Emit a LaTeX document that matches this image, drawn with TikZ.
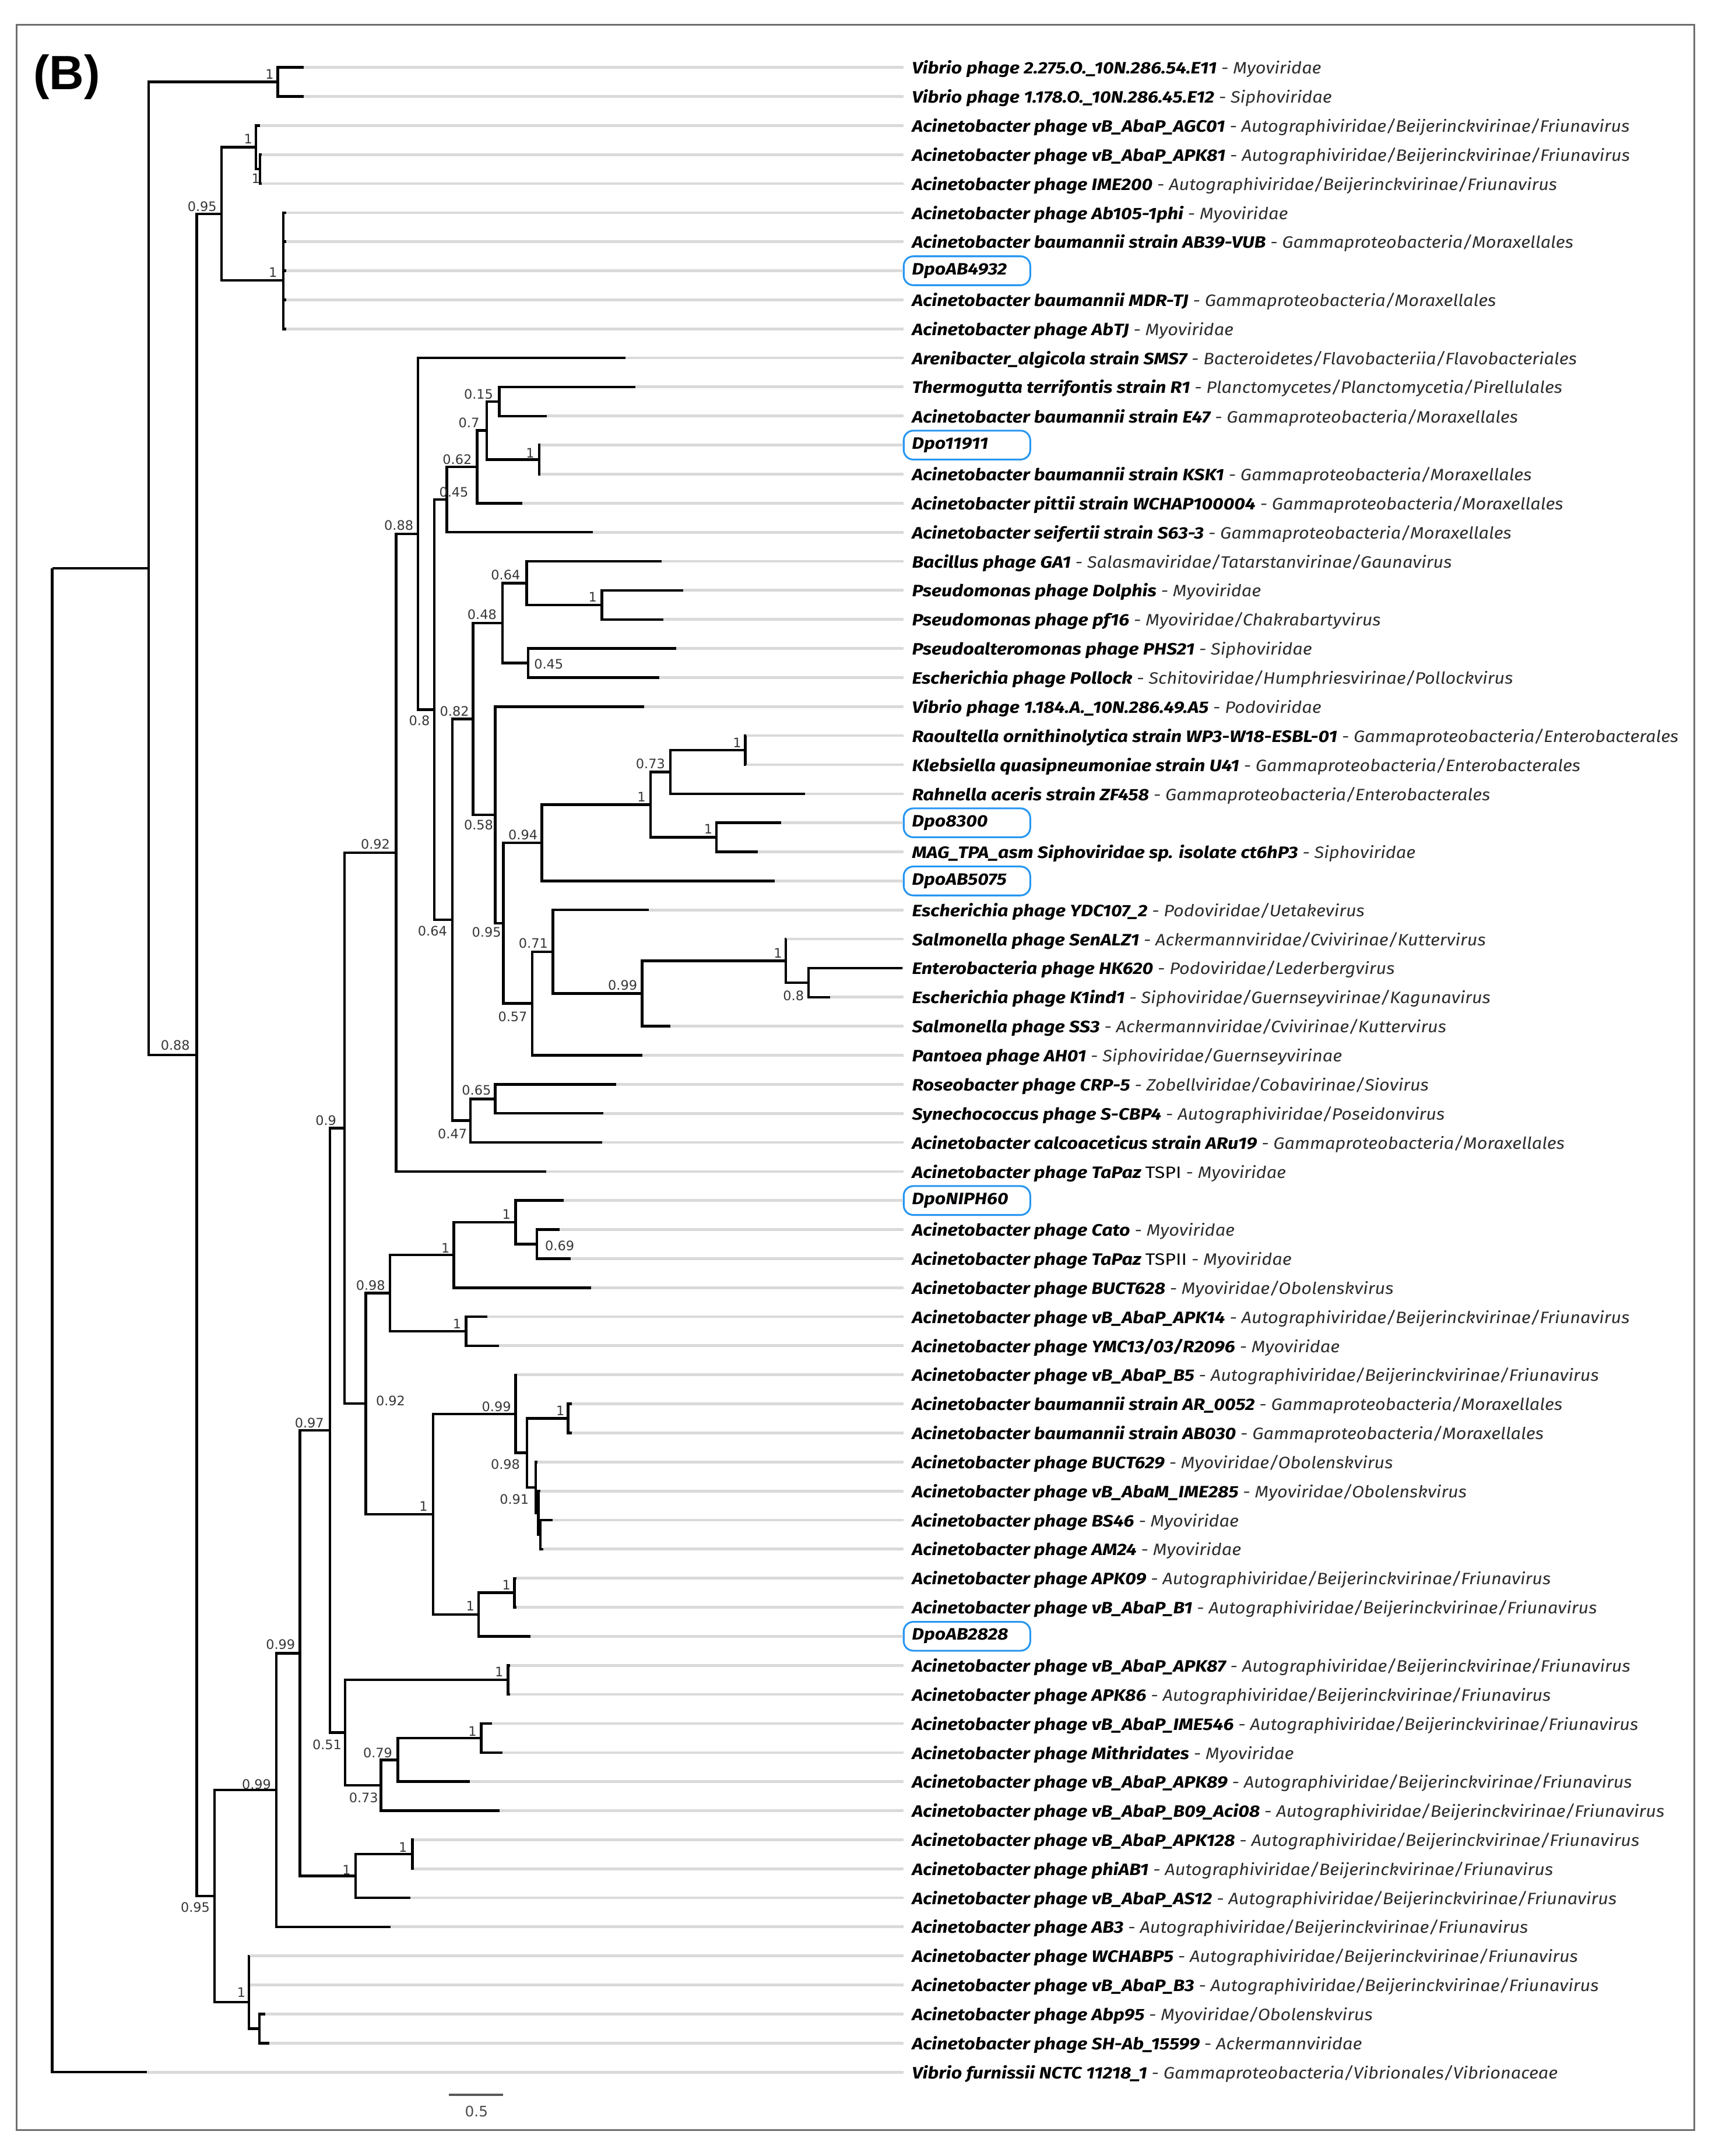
\documentclass[tikz,border=0pt]{standalone}
\usepackage{graphicx}
\usepackage{fontspec}
\newfontfamily\labfont{Fira Sans}
\newfontfamily\numfont{DejaVu Sans}
\newfontfamily\panelfont{Liberation Sans}
\definecolor{boxblue}{RGB}{38,150,240}
\definecolor{tipgray}{RGB}{218,218,218}
\definecolor{numgray}{RGB}{55,55,55}
\definecolor{framegray}{RGB}{110,110,110}
\definecolor{taxgray}{RGB}{45,45,45}
\newcommand\taxl[2]{\scalebox{1.14}[1]{\textbf{#1}}\scalebox{1.085}[1]{\color{taxgray}\ - #2}}
\newcommand\dpol[1]{\scalebox{1.14}[1]{\textbf{#1}}}
\newcommand\abfam{Autographiviridae/Beijerinckvirinae/Friunavirus}
\newcommand\gammor{Gammaproteobacteria/Moraxellales}
\tikzset{
 br/.style={line width=1.9pt, black, line join=miter},
 gl/.style={line width=2pt, tipgray},
 lab/.style={anchor=west, inner xsep=6pt, inner ysep=1pt, yshift=-1.2pt, font=\labfont\itshape\fontsize{12}{13}\selectfont, text=black},
 dpo/.style={lab, yshift=1.2pt, draw=boxblue, line width=1.3pt, rounded corners=7pt, text width=80pt, minimum height=21pt, align=left},
 bsv/.style={inner sep=0pt, font=\numfont\fontsize{9.5}{10}\selectfont, text=numgray},
}
\begin{document}
\begin{tikzpicture}[x=1pt,y=-1pt]
\useasboundingbox (0,0) rectangle (1247,1568);
\fill[white] (0,0) rectangle (1247,1568);
\draw[framegray, line width=1.2pt] (12,18) rectangle (1232,1549);
\node[font=\panelfont\bfseries\fontsize{35}{40}\selectfont, inner sep=0pt] (panel) at (48.5,56) {(B)};

% tips
\coordinate (t1) at (221,49.0);
\coordinate (t2) at (221,70.1);
\coordinate (t3) at (189,91.3);
\coordinate (t4) at (190.5,112.4);
\coordinate (t5) at (190.5,133.5);
\coordinate (t6) at (208,154.7);
\coordinate (t7) at (208,175.8);
\coordinate (t8) at (208,196.9);
\coordinate (t9) at (208,218.0);
\coordinate (t10) at (208,239.2);
\coordinate (t11) at (455,260.3);
\coordinate (t12) at (462,281.4);
\coordinate (t13) at (397.6,302.6);
\coordinate (t14) at (393,323.7);
\coordinate (t15) at (393,344.8);
\coordinate (t16) at (380,366.0);
\coordinate (t17) at (431,387.1);
\coordinate (t18) at (481,408.2);
\coordinate (t19) at (496.7,429.3);
\coordinate (t20) at (482.3,450.5);
\coordinate (t21) at (491.8,471.6);
\coordinate (t22) at (479.6,492.7);
\coordinate (t23) at (468.4,513.9);
\coordinate (t24) at (542.5,535.0);
\coordinate (t25) at (542.5,556.1);
\coordinate (t26) at (585.4,577.3);
\coordinate (t27) at (568,598.4);
\coordinate (t28) at (551,619.5);
\coordinate (t29) at (563.5,640.7);
\coordinate (t30) at (471.8,661.8);
\coordinate (t31) at (572,682.9);
\coordinate (t32) at (656,704.0);
\coordinate (t33) at (603.7,725.2);
\coordinate (t34) at (487.5,746.3);
\coordinate (t35) at (467.3,767.4);
\coordinate (t36) at (448,788.6);
\coordinate (t37) at (438.8,809.7);
\coordinate (t38) at (437.7,830.8);
\coordinate (t39) at (397,852.0);
\coordinate (t40) at (410,873.1);
\coordinate (t41) at (407,894.2);
\coordinate (t42) at (415,915.3);
\coordinate (t43) at (430,936.5);
\coordinate (t44) at (354.5,957.6);
\coordinate (t45) at (362.7,978.7);
\coordinate (t46) at (376,999.9);
\coordinate (t47) at (416,1021.0);
\coordinate (t48) at (416,1042.1);
\coordinate (t49) at (391,1063.3);
\coordinate (t50) at (393,1084.4);
\coordinate (t51) at (402,1105.5);
\coordinate (t52) at (395,1126.6);
\coordinate (t53) at (375.5,1147.8);
\coordinate (t54) at (375.5,1168.9);
\coordinate (t55) at (385.6,1190.0);
\coordinate (t56) at (371,1211.2);
\coordinate (t57) at (371,1232.3);
\coordinate (t58) at (357.9,1253.4);
\coordinate (t59) at (365.4,1274.6);
\coordinate (t60) at (341.5,1295.7);
\coordinate (t61) at (363.4,1316.8);
\coordinate (t62) at (301,1337.9);
\coordinate (t63) at (301,1359.1);
\coordinate (t64) at (298.4,1380.2);
\coordinate (t65) at (284,1401.3);
\coordinate (t66) at (181.5,1422.5);
\coordinate (t67) at (181.5,1443.6);
\coordinate (t68) at (192.8,1464.7);
\coordinate (t69) at (195.7,1485.9);
\coordinate (t70) at (107,1507.0);

% internal nodes
\coordinate (R) at (38,413.4);
\coordinate (A) at (108,413.4);
\coordinate (V) at (202,59.55);
\coordinate (B) at (143,767.2);
\coordinate (Ca) at (161,155.5);
\coordinate (n186) at (186,107.1);
\coordinate (n189a) at (189,122.95);
\coordinate (n206) at (206,204);
\coordinate (D) at (156,1378.9);
\coordinate (E) at (201,1301.8);
\coordinate (F) at (218,1202.3);
\coordinate (G) at (240,1040.2);
\coordinate (H) at (250.6,820.45);
\coordinate (I) at (288,620.1);
\coordinate (K) at (304,388.2);
\coordinate (L) at (315.7,516.1);
\coordinate (M) at (325,363.3);
\coordinate (n347) at (347,339.6);
\coordinate (n354) at (354,313.1);
\coordinate (n363) at (363,292.0);
\coordinate (n392) at (392,334.25);
\coordinate (P) at (329,668.95);
\coordinate (Q) at (344,522.9);
\coordinate (T) at (365.5,453.1);
\coordinate (n383) at (383,424.05);
\coordinate (n437) at (437.6,439.9);
\coordinate (n384) at (384,482.15);
\coordinate (U) at (360,592.65);
\coordinate (W) at (366,671.4);
\coordinate (X) at (394,612.95);
\coordinate (n473) at (473,585.2);
\coordinate (n487) at (487.5,561.4);
\coordinate (n542) at (542,545.55);
\coordinate (n521) at (521,608.95);
\coordinate (Y) at (387,729.8);
\coordinate (Z) at (402,692.15);
\coordinate (n467) at (467,722.5);
\coordinate (n571) at (571.5,698.75);
\coordinate (n588) at (588,714.6);
\coordinate (S) at (342,815);
\coordinate (n360) at (360,799.15);
\coordinate (J) at (266,1020.8);
\coordinate (n283) at (283.5,940.4);
\coordinate (n330) at (330,912.7);
\coordinate (n375a) at (375,888.9);
\coordinate (n390) at (390.5,904.75);
\coordinate (n339) at (339,968.15);
\coordinate (n315) at (315,1101.25);
\coordinate (n375b) at (375,1028.3);
\coordinate (n383b) at (383.3,1056.65);
\coordinate (n413) at (413,1031.55);
\coordinate (n390b) at (389.6,1081.75);
\coordinate (n391) at (391.5,1100.2);
\coordinate (n393) at (393,1116.05);
\coordinate (n348) at (348,1174.2);
\coordinate (n374) at (374,1158.35);
\coordinate (N251) at (251,1260);
\coordinate (n370) at (369.5,1221.75);
\coordinate (n277) at (277,1298.3);
\coordinate (n289) at (289.4,1279.85);
\coordinate (n350) at (350,1264);
\coordinate (n258) at (258.5,1364.35);
\coordinate (n300) at (300,1348.5);
\coordinate (n181) at (181,1456);
\coordinate (n189b) at (188.7,1475.3);

% labels
\node[lab] (l1) at (657,49.0) {\taxl{Vibrio phage 2.275.O.\_10N.286.54.E11}{Myoviridae}};
\node[lab] (l2) at (657,70.1) {\taxl{Vibrio phage 1.178.O.\_10N.286.45.E12}{Siphoviridae}};
\node[lab] (l3) at (657,91.3) {\taxl{Acinetobacter phage vB\_AbaP\_AGC01}{\abfam}};
\node[lab] (l4) at (657,112.4) {\taxl{Acinetobacter phage vB\_AbaP\_APK81}{\abfam}};
\node[lab] (l5) at (657,133.5) {\taxl{Acinetobacter phage IME200}{\abfam}};
\node[lab] (l6) at (657,154.7) {\taxl{Acinetobacter phage Ab105-1phi}{Myoviridae}};
\node[lab] (l7) at (657,175.8) {\taxl{Acinetobacter baumannii strain AB39-VUB}{\gammor}};
\node[dpo] (l8) at (656.5,196.9) {\dpol{DpoAB4932}};
\node[lab] (l9) at (657,218.0) {\taxl{Acinetobacter baumannii MDR-TJ}{\gammor}};
\node[lab] (l10) at (657,239.2) {\taxl{Acinetobacter phage AbTJ}{Myoviridae}};
\node[lab] (l11) at (657,260.3) {\taxl{Arenibacter\_algicola strain SMS7}{Bacteroidetes/Flavobacteriia/Flavobacteriales}};
\node[lab] (l12) at (657,281.4) {\taxl{Thermogutta terrifontis strain R1}{Planctomycetes/Planctomycetia/Pirellulales}};
\node[lab] (l13) at (657,302.6) {\taxl{Acinetobacter baumannii strain E47}{\gammor}};
\node[dpo] (l14) at (656.5,323.7) {\dpol{Dpo11911}};
\node[lab] (l15) at (657,344.8) {\taxl{Acinetobacter baumannii strain KSK1}{\gammor}};
\node[lab] (l16) at (657,366.0) {\taxl{Acinetobacter pittii strain WCHAP100004}{\gammor}};
\node[lab] (l17) at (657,387.1) {\taxl{Acinetobacter seifertii strain S63-3}{\gammor}};
\node[lab] (l18) at (657,408.2) {\taxl{Bacillus phage GA1}{Salasmaviridae/Tatarstanvirinae/Gaunavirus}};
\node[lab] (l19) at (657,429.3) {\taxl{Pseudomonas phage Dolphis}{Myoviridae}};
\node[lab] (l20) at (657,450.5) {\taxl{Pseudomonas phage pf16}{Myoviridae/Chakrabartyvirus}};
\node[lab] (l21) at (657,471.6) {\taxl{Pseudoalteromonas phage PHS21}{Siphoviridae}};
\node[lab] (l22) at (657,492.7) {\taxl{Escherichia phage Pollock}{Schitoviridae/Humphriesvirinae/Pollockvirus}};
\node[lab] (l23) at (657,513.9) {\taxl{Vibrio phage 1.184.A.\_10N.286.49.A5}{Podoviridae}};
\node[lab] (l24) at (657,535.0) {\taxl{Raoultella ornithinolytica strain WP3-W18-ESBL-01}{Gammaproteobacteria/Enterobacterales}};
\node[lab] (l25) at (657,556.1) {\taxl{Klebsiella quasipneumoniae strain U41}{Gammaproteobacteria/Enterobacterales}};
\node[lab] (l26) at (657,577.3) {\taxl{Rahnella aceris strain ZF458}{Gammaproteobacteria/Enterobacterales}};
\node[dpo] (l27) at (656.5,598.4) {\dpol{Dpo8300}};
\node[lab] (l28) at (657,619.5) {\taxl{MAG\_TPA\_asm Siphoviridae sp. isolate ct6hP3}{Siphoviridae}};
\node[dpo] (l29) at (656.5,640.7) {\dpol{DpoAB5075}};
\node[lab] (l30) at (657,661.8) {\taxl{Escherichia phage YDC107\_2}{Podoviridae/Uetakevirus}};
\node[lab] (l31) at (657,682.9) {\taxl{Salmonella phage SenALZ1}{Ackermannviridae/Cvivirinae/Kuttervirus}};
\node[lab] (l32) at (657,704.0) {\taxl{Enterobacteria phage HK620}{Podoviridae/Lederbergvirus}};
\node[lab] (l33) at (657,725.2) {\taxl{Escherichia phage K1ind1}{Siphoviridae/Guernseyvirinae/Kagunavirus}};
\node[lab] (l34) at (657,746.3) {\taxl{Salmonella phage SS3}{Ackermannviridae/Cvivirinae/Kuttervirus}};
\node[lab] (l35) at (657,767.4) {\taxl{Pantoea phage AH01}{Siphoviridae/Guernseyvirinae}};
\node[lab] (l36) at (657,788.6) {\taxl{Roseobacter phage CRP-5}{Zobellviridae/Cobavirinae/Siovirus}};
\node[lab] (l37) at (657,809.7) {\taxl{Synechococcus phage S-CBP4}{Autographiviridae/Poseidonvirus}};
\node[lab] (l38) at (657,830.8) {\taxl{Acinetobacter calcoaceticus strain ARu19}{\gammor}};
\node[lab] (l39) at (657,852.0) {\taxl{Acinetobacter phage TaPaz \mdseries\upshape TSPI}{Myoviridae}};
\node[dpo] (l40) at (656.5,873.1) {\dpol{DpoNIPH60}};
\node[lab] (l41) at (657,894.2) {\taxl{Acinetobacter phage Cato}{Myoviridae}};
\node[lab] (l42) at (657,915.3) {\taxl{Acinetobacter phage TaPaz \mdseries\upshape TSPII}{Myoviridae}};
\node[lab] (l43) at (657,936.5) {\taxl{Acinetobacter phage BUCT628}{Myoviridae/Obolenskvirus}};
\node[lab] (l44) at (657,957.6) {\taxl{Acinetobacter phage vB\_AbaP\_APK14}{\abfam}};
\node[lab] (l45) at (657,978.7) {\taxl{Acinetobacter phage YMC13/03/R2096}{Myoviridae}};
\node[lab] (l46) at (657,999.9) {\taxl{Acinetobacter phage vB\_AbaP\_B5}{\abfam}};
\node[lab] (l47) at (657,1021.0) {\taxl{Acinetobacter baumannii strain AR\_0052}{\gammor}};
\node[lab] (l48) at (657,1042.1) {\taxl{Acinetobacter baumannii strain AB030}{\gammor}};
\node[lab] (l49) at (657,1063.3) {\taxl{Acinetobacter phage BUCT629}{Myoviridae/Obolenskvirus}};
\node[lab] (l50) at (657,1084.4) {\taxl{Acinetobacter phage vB\_AbaM\_IME285}{Myoviridae/Obolenskvirus}};
\node[lab] (l51) at (657,1105.5) {\taxl{Acinetobacter phage BS46}{Myoviridae}};
\node[lab] (l52) at (657,1126.6) {\taxl{Acinetobacter phage AM24}{Myoviridae}};
\node[lab] (l53) at (657,1147.8) {\taxl{Acinetobacter phage APK09}{\abfam}};
\node[lab] (l54) at (657,1168.9) {\taxl{Acinetobacter phage vB\_AbaP\_B1}{\abfam}};
\node[dpo] (l55) at (656.5,1190.0) {\dpol{DpoAB2828}};
\node[lab] (l56) at (657,1211.2) {\taxl{Acinetobacter phage vB\_AbaP\_APK87}{\abfam}};
\node[lab] (l57) at (657,1232.3) {\taxl{Acinetobacter phage APK86}{\abfam}};
\node[lab] (l58) at (657,1253.4) {\taxl{Acinetobacter phage vB\_AbaP\_IME546}{\abfam}};
\node[lab] (l59) at (657,1274.6) {\taxl{Acinetobacter phage Mithridates}{Myoviridae}};
\node[lab] (l60) at (657,1295.7) {\taxl{Acinetobacter phage vB\_AbaP\_APK89}{\abfam}};
\node[lab] (l61) at (657,1316.8) {\taxl{Acinetobacter phage vB\_AbaP\_B09\_Aci08}{\abfam}};
\node[lab] (l62) at (657,1337.9) {\taxl{Acinetobacter phage vB\_AbaP\_APK128}{\abfam}};
\node[lab] (l63) at (657,1359.1) {\taxl{Acinetobacter phage phiAB1}{\abfam}};
\node[lab] (l64) at (657,1380.2) {\taxl{Acinetobacter phage vB\_AbaP\_AS12}{\abfam}};
\node[lab] (l65) at (657,1401.3) {\taxl{Acinetobacter phage AB3}{\abfam}};
\node[lab] (l66) at (657,1422.5) {\taxl{Acinetobacter phage WCHABP5}{\abfam}};
\node[lab] (l67) at (657,1443.6) {\taxl{Acinetobacter phage vB\_AbaP\_B3}{\abfam}};
\node[lab] (l68) at (657,1464.7) {\taxl{Acinetobacter phage Abp95}{Myoviridae/Obolenskvirus}};
\node[lab] (l69) at (657,1485.9) {\taxl{Acinetobacter phage SH-Ab\_15599}{Ackermannviridae}};
\node[lab] (l70) at (657,1507.0) {\taxl{Vibrio furnissii NCTC 11218\_1}{Gammaproteobacteria/Vibrionales/Vibrionaceae}};

% grey guide lines
\foreach \i in {1,...,70} \draw[gl] (t\i) -- (l\i.west |- t\i);

% tree branches
\foreach \p/\c in {R/A,R/t70,A/V,A/B,V/t1,V/t2,B/Ca,B/D,Ca/n186,Ca/n206,
 n186/t3,n186/n189a,n189a/t4,n189a/t5,n206/t6,n206/t7,n206/t8,n206/t9,n206/t10,
 D/E,D/n181,E/F,E/t65,F/G,F/n258,G/H,G/N251,H/I,H/J,I/K,I/t39,K/t11,K/L,L/M,L/P,
 M/n347,M/t17,n347/n354,n347/t16,n354/n363,n354/n392,n363/t12,n363/t13,n392/t14,n392/t15,
 P/Q,P/S,Q/T,Q/U,T/n383,T/n384,n383/t18,n383/n437,n437/t19,n437/t20,n384/t21,n384/t22,
 U/t23,U/W,W/X,W/Y,X/n473,X/t29,n473/n487,n473/n521,n487/n542,n487/t26,n542/t24,n542/t25,
 n521/t27,n521/t28,Y/Z,Y/t35,Z/t30,Z/n467,n467/n571,n467/t34,n571/t31,n571/n588,n588/t32,n588/t33,
 S/n360,S/t38,n360/t36,n360/t37,J/n283,J/n315,n283/n330,n283/n339,n330/n375a,n330/t43,
 n375a/t40,n375a/n390,n390/t41,n390/t42,n339/t44,n339/t45,n315/n375b,n315/n348,
 n375b/t46,n375b/n383b,n383b/n413,n383b/n390b,n413/t47,n413/t48,n390b/t49,n390b/n391,
 n391/t50,n391/n393,n393/t51,n393/t52,n348/n374,n348/t55,n374/t53,n374/t54,
 N251/n370,N251/n277,n370/t56,n370/t57,n277/n289,n277/t61,n289/n350,n289/t60,n350/t58,n350/t59,
 n258/n300,n258/t64,n300/t62,n300/t63,n181/t66,n181/t67,n181/n189b,n189b/t68,n189b/t69}
 \draw[br] (\p) |- (\c);

% support values
\node[bsv] (s1) at (196,54) {1};
\node[bsv] (s2) at (180.5,101) {1};
\node[bsv] (s3) at (186,130) {1};
\node[bsv] (s4) at (147,150) {0.95};
\node[bsv] (s5) at (198.5,198) {1};
\node[bsv] (s6) at (127.5,760) {0.88};
\node[bsv] (s7) at (273,614) {0.92};
\node[bsv] (s8) at (290,382) {0.88};
\node[bsv] (s9) at (237,815) {0.9};
\node[bsv] (s10) at (225,1035) {0.97};
\node[bsv] (s11) at (204,1196) {0.99};
\node[bsv] (s12) at (186.5,1297.5) {0.99};
\node[bsv] (s13) at (142,1387) {0.95};
\node[bsv] (s14) at (175.5,1449) {1};
\node[bsv] (s15) at (305,524) {0.8};
\node[bsv] (s16) at (330,358) {0.45};
\node[bsv] (s17) at (332.5,334) {0.62};
\node[bsv] (s18) at (341,307.5) {0.7};
\node[bsv] (s19) at (348,286.5) {0.15};
\node[bsv] (s20) at (385.5,329.5) {1};
\node[bsv] (s21) at (314.5,677) {0.64};
\node[bsv] (s22) at (330.5,517.5) {0.82};
\node[bsv] (s23) at (350.5,447) {0.48};
\node[bsv] (s24) at (367.7,418) {0.64};
\node[bsv] (s25) at (431,434) {1};
\node[bsv] (s26) at (399,483) {0.45};
\node[bsv] (s27) at (348,600) {0.58};
\node[bsv] (s28) at (353.8,678) {0.95};
\node[bsv] (s29) at (380.3,607) {0.94};
\node[bsv] (s30) at (466.5,579.5) {1};
\node[bsv] (s31) at (473,555.6) {0.73};
\node[bsv] (s32) at (536,540) {1};
\node[bsv] (s33) at (515,603) {1};
\node[bsv] (s34) at (372.8,739.5) {0.57};
\node[bsv] (s35) at (387.8,686) {0.71};
\node[bsv] (s36) at (452.8,716.6) {0.99};
\node[bsv] (s37) at (565.7,693) {1};
\node[bsv] (s38) at (577,724) {0.8};
\node[bsv] (s39) at (329,824.7) {0.47};
\node[bsv] (s40) at (346.5,793) {0.65};
\node[bsv] (s41) at (284,1018.6) {0.92};
\node[bsv] (s42) at (269.5,935) {0.98};
\node[bsv] (s43) at (324,907.5) {1};
\node[bsv] (s44) at (368.3,883) {1};
\node[bsv] (s45) at (407,906) {0.69};
\node[bsv] (s46) at (332.3,962.7) {1};
\node[bsv] (s47) at (308,1095.6) {1};
\node[bsv] (s48) at (361,1023) {0.99};
\node[bsv] (s49) at (367.5,1065) {0.98};
\node[bsv] (s50) at (407.5,1026) {1};
\node[bsv] (s51) at (374,1090.5) {0.91};
\node[bsv] (s52) at (342,1168) {1};
\node[bsv] (s53) at (368.3,1152.8) {1};
\node[bsv] (s54) at (363,1216) {1};
\node[bsv] (s55) at (237.8,1269) {0.51};
\node[bsv] (s56) at (264.4,1307.6) {0.73};
\node[bsv] (s57) at (274.7,1274.6) {0.79};
\node[bsv] (s58) at (343.6,1259.3) {1};
\node[bsv] (s59) at (252,1360) {1};
\node[bsv] (s60) at (293,1343.5) {1};

% scale bar
\coordinate (sb1) at (326.5,1523.5);
\coordinate (sb2) at (366,1523.5);
\draw[line width=1.5pt, black!65] (sb1) -- (sb2);
\node[bsv, font=\numfont\fontsize{10.5}{12}\selectfont, text=black!70] (sbl) at (346.5,1535.5) {0.5};
\end{tikzpicture}
\end{document}
